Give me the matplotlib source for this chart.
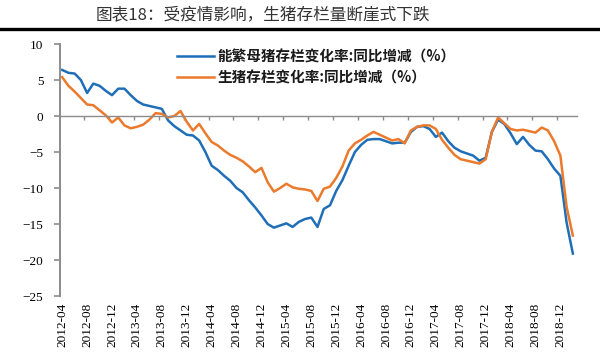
import matplotlib
matplotlib.use("Agg")
import matplotlib.pyplot as plt
from matplotlib.lines import Line2D
import numpy as np

# ── Data (monthly, 2012-04 .. 2019-02, YoY %) ─────────────────────────────────
sow_yoy = [
    6.4, 6.0, 5.9, 5.0, 3.2, 4.5, 4.2, 3.5, 2.9, 3.8, 3.8, 2.9,
    2.1, 1.6, 1.4, 1.2, 1.0, -0.6, -1.4, -2.0, -2.6, -2.7, -3.4, -5.0,
    -6.9, -7.5, -8.3, -9.0, -10.0, -10.6, -11.7, -12.7, -13.8, -15.0, -15.5, -15.2,
    -14.9, -15.4, -14.7, -14.3, -14.1, -15.4, -12.9, -12.4, -10.4, -8.9, -6.9, -5.0,
    -4.0, -3.3, -3.2, -3.2, -3.5, -3.8, -3.7, -3.7, -2.2, -1.5, -1.4, -1.8,
    -2.9, -2.3, -3.5, -4.4, -4.9, -5.2, -5.5, -6.2, -5.8, -2.2, -0.5, -1.1,
    -2.4, -3.9, -2.9, -4.0, -4.8, -4.9, -6.0, -7.3, -8.3, -14.8, -19.1,
]
hog_yoy = [
    5.4, 4.2, 3.4, 2.5, 1.6, 1.5, 0.8, 0.1, -0.9, -0.2, -1.3, -1.7,
    -1.5, -1.2, -0.5, 0.4, 0.3, -0.2, 0.0, 0.7, -0.8, -2.0, -1.1, -2.4,
    -3.6, -4.1, -4.8, -5.4, -5.8, -6.3, -7.0, -7.8, -7.2, -9.2, -10.5, -10.0,
    -9.4, -9.9, -10.1, -10.2, -10.4, -11.8, -10.1, -9.8, -8.6, -7.0, -4.8, -3.8,
    -3.3, -2.7, -2.2, -2.6, -3.0, -3.4, -3.2, -3.8, -2.0, -1.5, -1.3, -1.3,
    -1.8, -3.3, -4.4, -5.4, -6.0, -6.2, -6.4, -6.6, -6.0, -2.2, -0.2, -1.0,
    -1.8, -2.0, -1.9, -2.1, -2.3, -1.6, -2.0, -3.5, -5.5, -12.6, -16.6,
]
months = [f"{y}-{m:02d}" for y in range(2012, 2020) for m in range(1, 13)]
months = months[months.index("2012-04"):months.index("2019-02") + 1]
tick_labels = months[::4]

sow_label = "能繁母猪存栏变化率:同比增减（%）"
hog_label = "生猪存栏变化率:同比增减（%）"
title = "图表18：受疫情影响，生猪存栏量断崖式下跌"

BLUE = "#1f6fb8"
ORANGE = "#eb7a2c"
AXIS_GREY = "#8c8c8c"

# ── Figure ────────────────────────────────────────────────────────────────────
fig = plt.figure(figsize=(6.0, 3.55), dpi=100)
ax = fig.add_axes([0.100, 0.166, 0.862, 0.710])

x = np.arange(len(months))
ax.plot(x, sow_yoy, color=BLUE, lw=1.8, label=sow_label, solid_joinstyle="round")
ax.plot(x, hog_yoy, color=ORANGE, lw=1.8, label=hog_label, solid_joinstyle="round")

ax.set_ylim(-25, 10)
ax.set_yticks(np.arange(-25, 11, 5))
ax.set_xlim(-0.35, 82.7)

# Excel-style category axis crossing at 0, labels at the bottom
for side in ("top", "right"):
    ax.spines[side].set_visible(False)
ax.spines["left"].set_color(AXIS_GREY)
ax.spines["left"].set_linewidth(1.4)
ax.spines["bottom"].set_position(("data", 0))
ax.spines["bottom"].set_color(AXIS_GREY)
ax.spines["bottom"].set_linewidth(1.0)
ax.set_xticks([])
ax.set_xticks(np.arange(3.5, len(months), 4), minor=True)
ax.tick_params(axis="x", which="minor", direction="out", length=3,
               width=1.0, color=AXIS_GREY)
ax.tick_params(axis="y", direction="out", length=4, width=1.2,
               color=AXIS_GREY, pad=8)
for lab in ax.get_yticklabels():
    lab.set_fontfamily("Liberation Serif")
    lab.set_fontsize(9.5)

sec = ax.secondary_xaxis("bottom")
sec.spines["bottom"].set_visible(False)
sec.set_xticks(x[::4], tick_labels)
sec.tick_params(axis="x", length=0, pad=5)
for lab in sec.get_xticklabels():
    lab.set_rotation(90)
    lab.set_fontfamily("Liberation Serif")
    lab.set_fontsize(9.5)

leg = ax.legend(loc="upper left", bbox_to_anchor=(0.2, 1.035), frameon=False,
                handlelength=2.6, handletextpad=0.2, labelspacing=0.35,
                prop={"family": ["Noto Sans CJK SC", "DejaVu Sans"],
                      "weight": "bold", "size": 10.5})
for t in leg.get_texts():
    t.set_color("#1a1a1a")

# title + rule above the chart
fig.text(0.438, 0.958, title, ha="center", va="center", fontsize=12,
         color="#333333", family=["Noto Sans CJK SC", "DejaVu Sans"])
fig.add_artist(Line2D([0, 1], [0.917, 0.917], transform=fig.transFigure,
                      color="black", lw=2.4))

fig.savefig("out.png", dpi=100)
